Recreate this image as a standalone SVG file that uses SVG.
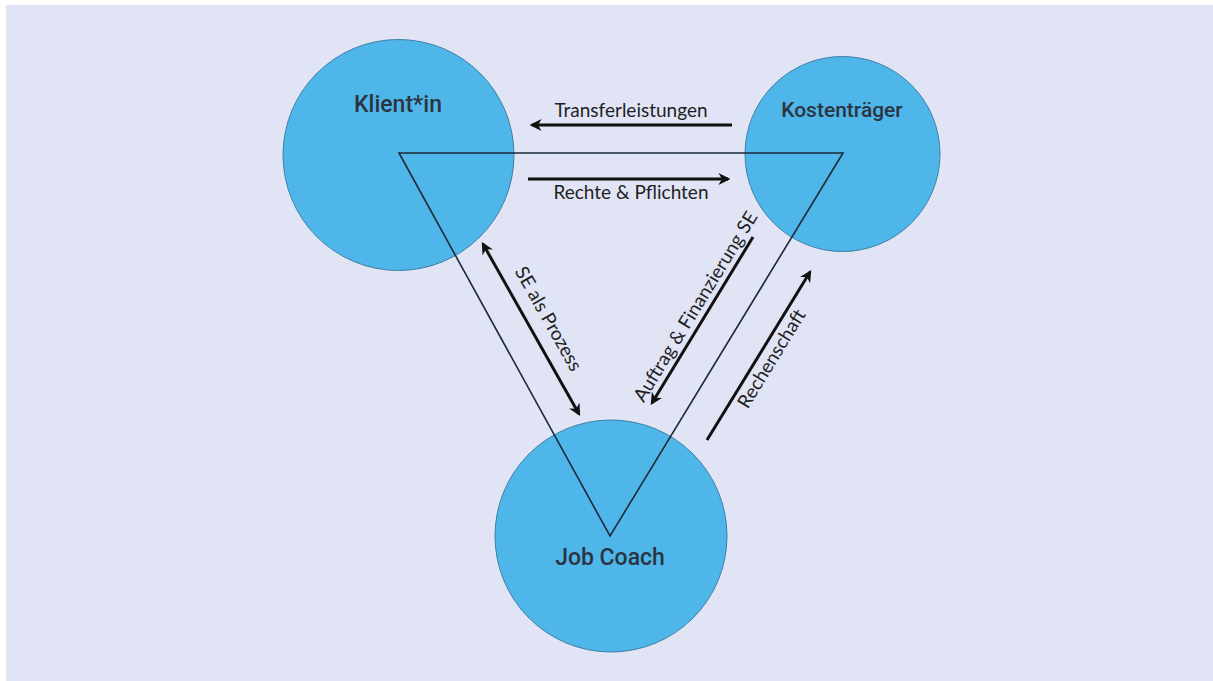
<svg xmlns="http://www.w3.org/2000/svg" width="1213" height="681" viewBox="0 0 1213 681">
<defs>
<marker id="ah" viewBox="0 0 10 10" refX="8" refY="5" markerWidth="4" markerHeight="4" orient="auto-start-reverse" markerUnits="strokeWidth">
<path d="M0,0 L10,5 L0,10 L3,5 Z" fill="#111"/>
</marker>
<style>
.node{fill:#4fb6ea;stroke:#3f7fa6;stroke-width:1}
.nlabel{font-family:Roboto,"Liberation Sans",sans-serif;font-weight:500;fill:#2b3541;text-anchor:middle}
.elabel{font-family:Lato,"Open Sans",sans-serif;font-size:19px;fill:#1f1f24;text-anchor:middle}
.arr{stroke:#111;stroke-width:3;fill:none}
.tri{stroke:#1d2a38;stroke-width:1.6;fill:none}
</style>
</defs>
<rect width="1213" height="681" fill="#ffffff"/>
<rect x="6" y="5" width="1207" height="676" fill="#e1e4f5"/>
<g id="klient">
<circle class="node" cx="398.5" cy="155" r="115.5"/>
<text class="nlabel" x="398" y="112" font-size="23">Klient*in</text>
</g>
<g id="kostentraeger">
<circle class="node" cx="842.5" cy="154" r="97.5"/>
<text class="nlabel" x="842" y="117" font-size="21">Kostenträger</text>
</g>
<g id="jobcoach">
<circle class="node" cx="611" cy="536" r="116"/>
<text class="nlabel" x="610" y="565" font-size="23">Job Coach</text>
</g>
<g id="connectors">
<polygon class="tri" points="399,153 843,153 610,536"/>
<line class="arr" x1="732" y1="125" x2="532" y2="125" marker-end="url(#ah)"/>
<text class="elabel" x="631" y="117">Transferleistungen</text>
<line class="arr" x1="528" y1="179" x2="728" y2="179" marker-end="url(#ah)"/>
<text class="elabel" x="631" y="199">Rechte &amp; Pflichten</text>
<line class="arr" x1="483" y1="244" x2="579" y2="414" marker-start="url(#ah)" marker-end="url(#ah)"/>
<text class="elabel" transform="translate(543,322) rotate(60.5)">SE als Prozess</text>
<line class="arr" x1="753" y1="237" x2="652" y2="403" marker-end="url(#ah)"/>
<text class="elabel" transform="translate(701,310) rotate(-58.5)">Auftrag &amp; Finanzierung SE</text>
<line class="arr" x1="707" y1="440" x2="810" y2="272" marker-end="url(#ah)"/>
<text class="elabel" transform="translate(777,362) rotate(-58.5)">Rechenschaft</text>
</g>
</svg>
